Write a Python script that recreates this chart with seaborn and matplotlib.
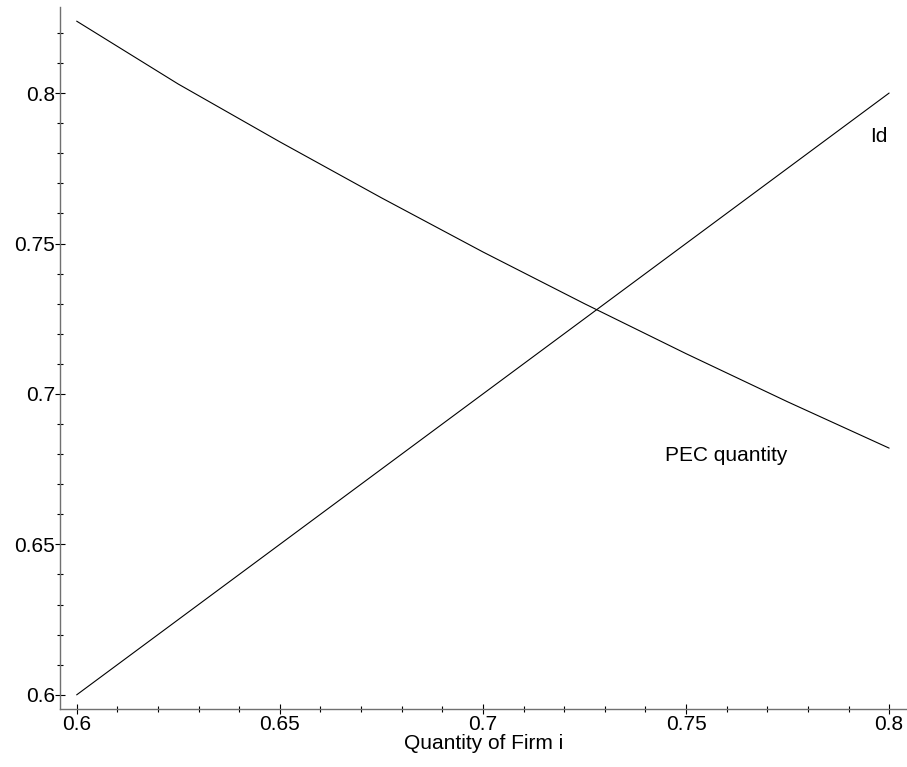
import matplotlib
matplotlib.use('Agg')
import matplotlib.pyplot as plt
from matplotlib.ticker import MultipleLocator
import pandas as pd
import seaborn as sns

# Data
quantity = [0.6, 0.625, 0.65, 0.675, 0.7, 0.725, 0.75, 0.775, 0.8]
identity_line = [0.6, 0.625, 0.65, 0.675, 0.7, 0.725, 0.75, 0.775, 0.8]
pec_line = [0.8239, 0.8030, 0.7838, 0.7652, 0.7472, 0.7300, 0.7134, 0.6974, 0.6820]
tick_vals = [0.6, 0.65, 0.7, 0.75, 0.8]
tick_labels = ['0.6', '0.65', '0.7', '0.75', '0.8']

sns.set_style('white')
plt.rcParams['font.family'] = ['Liberation Sans', 'DejaVu Sans']
plt.rcParams['text.color'] = 'black'
plt.rcParams['axes.labelcolor'] = 'black'
plt.rcParams['xtick.color'] = 'black'
plt.rcParams['ytick.color'] = 'black'

fig = plt.figure(figsize=(9.07, 7.67), dpi=100)
ax = fig.add_axes([60 / 907, 58 / 767, 1 - 60 / 907, (709 - 7) / 767])

df = pd.DataFrame({
    'q': quantity * 2,
    'v': identity_line + pec_line,
    'curve': ['Id'] * len(quantity) + ['PEC'] * len(quantity),
})
sns.lineplot(data=df, x='q', y='v', units='curve', estimator=None,
             color='black', linewidth=0.8, ax=ax)

ax.set_xlim(0.5959, 0.8044)
ax.set_ylim(0.5953, 0.8286)

ax.xaxis.set_minor_locator(MultipleLocator(0.01))
ax.yaxis.set_minor_locator(MultipleLocator(0.01))
ax.set_xticks(tick_vals)
ax.set_xticklabels(tick_labels)
ax.set_yticks(tick_vals)
ax.set_yticklabels(tick_labels)

for side in ['top', 'right']:
    ax.spines[side].set_visible(False)
for side in ['left', 'bottom']:
    ax.spines[side].set_color('#707070')
    ax.spines[side].set_linewidth(1.0)

ax.tick_params(which='major', direction='inout', length=7, width=0.8,
               labelsize=15, pad=1, left=True, bottom=True)
ax.tick_params(axis='y', which='major', pad=0)
ax.tick_params(which='minor', direction='inout', length=4, width=0.8,
               left=True, bottom=True)

ax.set_xlabel('Quantity of Firm i', fontsize=15, labelpad=0)
ax.set_ylabel('')

ax.text(0.7953, 0.7854, 'Id', fontsize=15, va='center', ha='left')
ax.text(0.7449, 0.6794, 'PEC quantity', fontsize=15, va='center', ha='left')

fig.savefig('out.png', dpi=100)
